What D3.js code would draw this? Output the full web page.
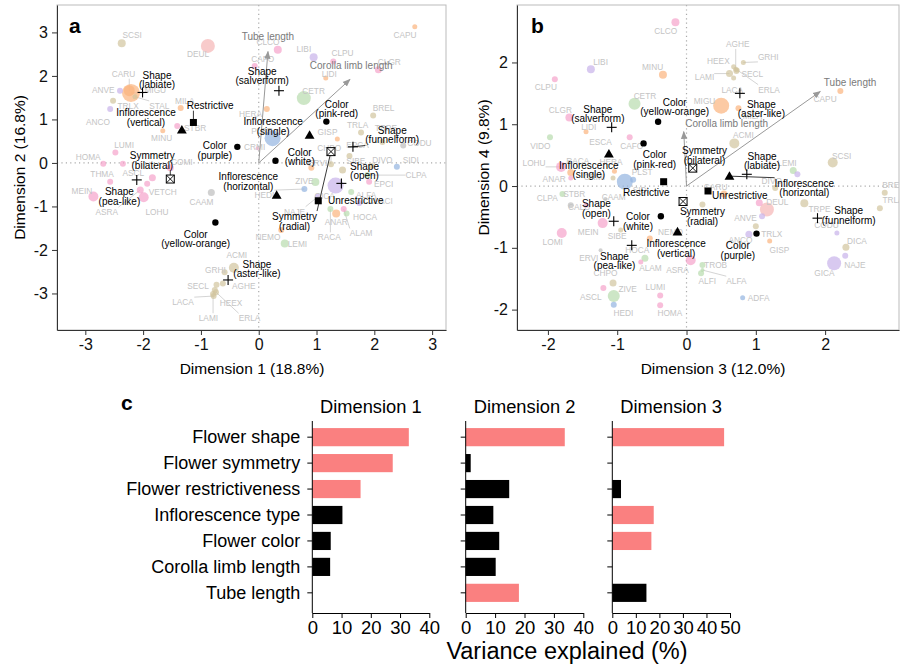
<!DOCTYPE html>
<html><head><meta charset="utf-8">
<script src="https://cdn.jsdelivr.net/npm/d3@7"></script>
<style>body{margin:0;background:#fff}svg{display:block;font-family:"Liberation Sans",Arial,Helvetica,sans-serif}</style>
</head><body><svg id="c" width="901" height="667"></svg>
<script>
// ---------------- DATA ----------------
// species points: [code, x, y, labelX, labelY, colourGroup, size]
const speciesA = [
["SCSI",-2.37,2.75,-2.19,2.93,"t",4],["DEUL",-0.88,2.69,-1.05,2.51,"r",7],["MIGU",-2.21,1.61,-1.79,1.68,"o",9],
["CARU",-2.24,1.66,-2.34,2.05,"o",5.5],["ANVE",-2.40,1.66,-2.69,1.68,"v",3],["TRLX",-2.52,1.43,-2.26,1.31,"t",3],
["STAL",-2.14,1.52,-1.72,1.31,"t",2.5],["ANCO",-2.57,1.24,-2.78,0.94,"v",3],["MILA",-1.35,1.26,-1.28,1.43,"o",3],
["STBR",-1.41,0.85,-1.10,0.80,"p",3],["MINU",-1.66,0.74,-1.68,0.58,"o",2.5],["HERA",0.14,1.24,-0.14,1.13,"o",3],
["LUMI",-2.48,0.24,-2.33,0.41,"p",3],["HOMA",-2.69,-0.02,-2.95,0.14,"p",3],["",-2.35,-0.02,-2.35,-0.02,"p",3],
["THMA",-2.57,-0.43,-2.71,-0.25,"p",3],["ASCL",-1.84,-0.34,-2.17,-0.22,"p",3.5],["COMI",-1.53,-0.11,-1.33,0.02,"p",3.5],
["MEIN",-2.86,-0.77,-3.06,-0.64,"p",5],["VETCH",-1.93,-0.48,-1.66,-0.67,"p",3],["ASRA",-2.05,-0.62,-2.63,-1.13,"p",3.5],
["LOHU",-1.99,-0.79,-1.76,-1.13,"p",5],["CAAM",-0.82,-0.68,-0.99,-0.89,"k",3.5],["PLST",0.24,0.57,0.05,0.74,"b",8],
["CRMI",-0.02,0.34,-0.07,0.37,"p",2],["CAFO",-0.07,2.23,0.07,2.39,"p",3],["CLCO",0.33,2.60,0.16,2.77,"p",4],
["CAPU",2.70,3.13,2.53,2.93,"o",2.5],["LIBI",0.95,2.43,0.78,2.61,"v",4],["CLPU",1.29,2.33,1.45,2.52,"p",3],
["CLGR",2.07,2.14,2.26,2.33,"p",3.5],["LIDI",1.16,1.95,1.22,2.05,"o",2.5],["CETR",0.78,1.49,0.95,1.66,"g",7],
["BREL",1.98,1.09,2.16,1.26,"t",3],["TRLA",1.77,0.70,1.71,0.87,"t",3],["TRPE",2.14,0.48,2.20,0.81,"t",3],
["CODU",2.50,0.40,2.78,0.46,"k",3],["GISP",1.36,0.55,1.19,0.72,"o",2.5],["EPCA",1.57,0.16,1.71,0.41,"t",3],
["CHPO",1.25,-0.03,1.22,0.35,"t",3],["SIBE",1.45,-0.16,1.68,0.05,"t",3.5],["DIVO",1.95,-0.07,2.14,0.07,"t",3],
["SIDI",2.39,-0.09,2.63,0.07,"b",3],["CLPA",1.88,-0.28,2.72,-0.28,"g",3],["EPCI",1.91,-0.43,2.16,-0.49,"p",3],
["ZIVE",0.98,-0.44,0.79,-0.41,"g",4],["ERVI",0.91,-0.11,1.02,0.00,"o",3],["HEDI",0.79,-0.60,0.10,-0.74,"b",3],
["GICA",1.33,-0.52,1.14,-0.76,"v",8],["ALFA",1.60,-0.67,1.86,-0.74,"g",3],["LACI",1.74,-0.92,2.16,-0.87,"v",3],
["NAJE",1.02,-0.78,0.62,-1.12,"v",3],["ANAR",1.34,-1.16,1.34,-1.35,"o",4],["HOCA",1.52,-1.16,1.84,-1.25,"g",3],
["ALAM",1.47,-1.06,1.77,-1.62,"p",3],["RACA",1.24,-1.06,1.22,-1.71,"g",3],["NEMO",0.39,-1.54,0.16,-1.71,"o",3],
["LEMI",0.45,-1.85,0.67,-1.86,"g",4],["ACMI",-0.43,-2.41,-0.38,-2.11,"t",5],["GRHI",-0.59,-2.51,-0.75,-2.46,"t",3],
["AGHE",-0.62,-2.77,-0.26,-2.84,"t",3],["SECL",-0.73,-2.80,-1.05,-2.84,"t",3],["HEEX",-0.76,-2.92,-0.48,-3.21,"t",3],
["LACA",-0.78,-3.06,-1.31,-3.20,"t",3],["LAMI",-0.79,-3.01,-0.87,-3.57,"t",3],["ERLA",-0.74,-2.97,-0.16,-3.57,"t",3]
];
const speciesB = [
["CLCO",-0.16,2.65,-0.30,2.51,"p",4],["LIBI",-1.38,1.89,-1.24,2.01,"v",4],["MINU",-0.34,1.80,-0.49,1.92,"o",4],
["CLPU",-1.90,1.73,-2.03,1.60,"p",3],["CETR",-0.75,1.33,-0.60,1.46,"g",6],["CLGR",-1.69,1.11,-1.82,1.23,"p",4],
["LIDI",-1.45,0.88,-1.41,0.96,"o",2.5],["VIDO",-1.97,0.79,-2.11,0.65,"g",3],["ESCA",-1.30,0.80,-1.24,0.72,"k",0],
["CAFO",-0.82,0.79,-0.79,0.65,"p",3],["LOHU",-1.81,0.31,-2.20,0.38,"p",5],["RACA",-1.67,0.22,-1.57,0.41,"o",3.5],
["HERA",-1.04,0.24,-1.09,0.39,"o",2.5],["ANAR",-1.67,0.13,-1.91,0.12,"p",2.5],["PLST",-0.89,0.07,-0.64,0.22,"b",8],
["SIDI",-0.77,0.10,-0.66,-0.06,"b",3],["CRMI",-1.06,0.13,-1.33,0.15,"t",2.5],["CLPA",-1.79,-0.13,-2.01,-0.20,"g",3],
["STBR",-1.45,-0.31,-1.62,-0.13,"p",2.5],["CALU",-1.67,-0.31,-1.55,-0.34,"k",3],["CAAM",-1.17,-0.21,-1.05,-0.17,"k",2],
["MEIN",-1.21,-0.60,-1.42,-0.74,"p",5],["LOMI",-1.80,-0.76,-1.93,-0.90,"p",5],["SIBE",-0.95,-0.71,-1.00,-0.81,"t",2.5],
["NEMO",-0.53,-0.85,-0.23,-0.74,"o",3],["ERVI",-1.24,-1.04,-1.41,-1.16,"k",2],["HOCA",-0.60,-1.17,-0.71,-1.04,"g",3.5],
["ALAM",-0.66,-1.23,-0.52,-1.32,"p",2.5],["CHPO",-1.06,-1.57,-1.17,-1.41,"t",3.5],["ASRA",0.06,-1.20,-0.13,-1.36,"p",5],
["ASCL",-1.20,-1.65,-1.38,-1.79,"p",3],["ZIVE",-1.05,-1.78,-0.85,-1.66,"g",6],["LUMI",-0.38,-1.77,-0.45,-1.64,"p",3],
["HEDI",-1.05,-1.92,-0.91,-2.06,"b",3],["HOMA",-0.38,-1.93,-0.24,-2.06,"p",3],["CARU",0.54,-0.13,0.42,-0.01,"o",3.5],
["DEUL",1.16,-0.38,1.31,-0.26,"r",7],["",1.05,-0.27,1.05,-0.27,"p",3.5],["",0.23,-0.30,0.23,-0.30,"t",3],
["DIVO",1.28,-0.03,1.23,0.08,"t",3],["TRPE",1.70,-0.28,1.92,-0.37,"t",4],["CODU",2.17,-0.76,2.02,-0.63,"v",2.5],
["ANVE",1.09,-0.49,0.85,-0.51,"v",3],["TRLX",1.00,-0.65,1.23,-0.77,"t",3],["ANCO",0.90,-0.78,0.78,-0.88,"v",3.5],
["GISP",1.20,-0.89,1.34,-1.04,"o",2.5],["TROB",0.23,-1.28,0.42,-1.28,"g",3],["ALFI",0.21,-1.41,0.30,-1.54,"g",3],
["ALFA",0.23,-1.36,0.72,-1.54,"g",2],["ADFA",0.81,-1.81,1.04,-1.81,"b",2.5],["BREL",2.86,-0.11,2.98,0.02,"t",3],
["TRLA",2.79,-0.36,2.98,-0.23,"t",3],["DICA",2.30,-0.99,2.46,-0.89,"t",3.5],["NAJE",2.29,-1.13,2.43,-1.27,"v",3],
["GICA",2.13,-1.25,1.99,-1.41,"v",7],["AGHE",0.71,1.89,0.74,2.30,"t",2.5],["HEEX",0.68,1.93,0.46,2.03,"t",2.5],
["GRHI",0.82,2.00,1.18,2.09,"t",2.5],["LAMI",0.62,1.82,0.26,1.77,"t",3.5],["SECL",0.72,1.86,0.95,1.82,"t",3],
["LACA",0.68,1.75,0.66,1.56,"t",2.5],["ERLA",0.73,1.88,1.19,1.56,"t",2.5],["MIGU",0.50,1.30,0.26,1.38,"o",8],
["CAPU",2.22,1.54,2.00,1.41,"o",3],["MILA",0.75,1.26,0.95,1.13,"o",3],["ACMI",0.69,0.69,0.82,0.82,"t",5],
["SCSI",2.11,0.38,2.24,0.49,"t",5],["LEMI",1.54,0.25,1.45,0.37,"g",3.5],["",1.60,0.19,1.60,0.19,"v",3]
];
// trait-state points: [label, trait, x, y, labelX, labelY]
const catA = [
["Shape\n(labiate)","S",-2.01,1.62,-1.76,1.91],["Restrictive","R",-1.13,0.93,-0.84,1.33],
["Inflorescence\n(vertical)","I",-1.33,0.76,-1.95,1.05],["Color\n(purple)","C",-0.37,0.37,-0.76,0.29],
["Symmetry\n(bilateral)","Y",-1.53,-0.37,-1.84,0.06],["Shape\n(pea-like)","S",-2.11,-0.39,-2.41,-0.77],
["Color\n(yellow-orange)","C",-0.75,-1.37,-1.09,-1.75],["Shape\n(aster-like)","S",-0.53,-2.69,-0.03,-2.44],
["Inflorescence\n(horizontal)","I",0.31,-0.74,-0.18,-0.43],["Color\n(white)","C",0.29,0.05,0.71,0.14],
["Color\n(pink-red)","C",1.17,0.95,1.35,1.24],["Inflorescence\n(single)","I",0.88,0.64,0.25,0.84],
["Shape\n(salverform)","S",0.35,1.66,0.06,2.00],["Symmetry\n(radial)","Y",1.25,0.26,0.62,-1.34],
["Shape\n(funnelform)","S",1.63,0.37,2.31,0.64],["Shape\n(open)","S",1.43,-0.47,1.83,-0.18],
["Unrestrictive","R",1.03,-0.87,1.68,-0.85]
];
const catB = [
["Shape\n(salverform)","S",-1.08,0.95,-1.28,1.17],["Color\n(yellow-orange)","C",-0.41,1.04,-0.17,1.28],
["Color\n(pink-red)","C",-0.62,0.69,-0.46,0.43],["Inflorescence\n(single)","I",-1.12,0.52,-1.41,0.26],
["Restrictive","R",-0.33,0.07,-0.58,-0.11],["Symmetry\n(bilateral)","Y",0.09,0.29,0.26,0.50],
["Symmetry\n(radial)","Y",-0.05,-0.25,0.23,-0.49],["Unrestrictive","R",0.31,-0.08,0.77,-0.15],
["Shape\n(aster-like)","S",0.77,1.50,1.08,1.25],["Inflorescence\n(horizontal)","I",0.62,0.16,1.70,-0.03],
["Shape\n(labiate)","S",0.87,0.19,1.09,0.41],["Shape\n(funnelform)","S",1.89,-0.52,2.34,-0.48],
["Color\n(purple)","C",1.01,-0.77,0.74,-1.04],["Shape\n(open)","S",-1.05,-0.57,-1.30,-0.36],
["Color\n(white)","C",-0.37,-0.49,-0.70,-0.57],["Shape\n(pea-like)","S",-0.79,-0.96,-1.04,-1.21],
["Inflorescence\n(vertical)","I",-0.13,-0.74,-0.15,-1.01]
];
const leadersA = ["Restrictive","Symmetry\n(bilateral)","Symmetry\n(radial)","Shape\n(funnelform)"];
const leadersB = ["Inflorescence\n(horizontal)"];
// continuous trait vectors: [label, endX, endY, labelX, labelY]
const arrowsA = [["Tube length",0.16,2.56,0.16,2.91],["Corolla limb length",1.58,1.92,1.60,2.25]];
const arrowsB = [["Corolla limb length",-0.04,0.88,0.58,1.01],["Tube length",1.93,1.53,2.36,1.67]];
const ticksA = [-3,-2,-1,0,1,2,3];
const ticksB = [-2,-1,0,1,2];

// panel c
const traits = ["Flower shape","Flower symmetry","Flower restrictiveness","Inflorescence type","Flower color","Corolla limb length","Tube length"];
const dim1 = [33,27.5,16.5,10.3,6.3,6.1,0];
const dim2 = [33.7,1.7,14.8,9.4,11.4,10.2,18.1];
const dim3 = [47.5,0,3.7,17.6,16.6,0,14.5];
const dimTitles = ["Dimension 1","Dimension 2","Dimension 3"];
const ticks40 = [0,10,20,30,40], ticks50 = [0,10,20,30,40,50];

// ---------------- DRAWING ----------------
const svg = d3.select("#c");
const FONT = '"Liberation Sans",Arial,Helvetica,sans-serif';
const groupColor = {p:"#f5a3cb",o:"#fbb47e",v:"#c8b2ea",t:"#d2c49e",g:"#b8dcae",b:"#93b4e0",k:"#bdbdbd",r:"#f5b5b5"};

const defs = svg.append("defs");
defs.append("marker").attr("id","arr").attr("viewBox","0 0 10 10").attr("refX",9).attr("refY",5)
  .attr("markerWidth",8).attr("markerHeight",8).attr("orient","auto")
  .append("path").attr("d","M0,1 L10,5 L0,9 z").attr("fill","#999");

function nearest(px,py,bb){
  const nx = Math.max(bb.x, Math.min(px, bb.x+bb.width));
  const ny = Math.max(bb.y, Math.min(py, bb.y+bb.height));
  return [nx,ny,Math.hypot(px-nx,py-ny)];
}

function drawSym(g,type,cx,cy){
  if(type==="S"){
    g.append("line").attr("x1",cx-5).attr("x2",cx+5).attr("y1",cy).attr("y2",cy).attr("stroke","#000").attr("stroke-width",1.1);
    g.append("line").attr("x1",cx).attr("x2",cx).attr("y1",cy-5).attr("y2",cy+5).attr("stroke","#000").attr("stroke-width",1.1);
  } else if(type==="C"){
    g.append("circle").attr("cx",cx).attr("cy",cy).attr("r",3.2).attr("fill","#000");
  } else if(type==="I"){
    g.append("path").attr("d",d3.symbol(d3.symbolTriangle,42)()).attr("transform",`translate(${cx},${cy+0.8})`).attr("fill","#000");
  } else if(type==="R"){
    g.append("rect").attr("x",cx-3.5).attr("y",cy-3.5).attr("width",7).attr("height",7).attr("fill","#000");
  } else if(type==="Y"){
    g.append("rect").attr("x",cx-4).attr("y",cy-4).attr("width",8).attr("height",8).attr("fill","#fff").attr("stroke","#000").attr("stroke-width",1);
    g.append("path").attr("d",`M${cx-4},${cy-4}L${cx+4},${cy+4}M${cx+4},${cy-4}L${cx-4},${cy+4}`).attr("stroke","#000").attr("stroke-width",0.9);
  }
}

function drawScatter(cfg){
  const x = d3.scaleLinear().domain(cfg.xd).range([cfg.L,cfg.R]);
  const y = d3.scaleLinear().domain(cfg.yd).range([cfg.B,cfg.T]);
  defs.append("clipPath").attr("id","clip"+cfg.id).append("rect")
    .attr("x",cfg.L).attr("y",cfg.T).attr("width",cfg.R-cfg.L).attr("height",cfg.B-cfg.T);
  const g = svg.append("g").attr("clip-path",`url(#clip${cfg.id})`);
  g.append("line").attr("x1",x(0)).attr("x2",x(0)).attr("y1",cfg.T).attr("y2",cfg.B)
    .attr("stroke","#aaa").attr("stroke-width",1.2).attr("stroke-dasharray","1.2,3.2");
  g.append("line").attr("x1",cfg.L).attr("x2",cfg.R).attr("y1",y(0)).attr("y2",y(0))
    .attr("stroke","#aaa").attr("stroke-width",1.2).attr("stroke-dasharray","1.2,3.2");
  const gL = g.append("g"), gC = g.append("g"), gT = g.append("g");
  gC.selectAll("circle").data(cfg.species.filter(d=>d[6]>0)).join("circle")
    .attr("cx",d=>x(d[1])).attr("cy",d=>y(d[2])).attr("r",d=>d[6])
    .attr("fill",d=>groupColor[d[5]]).attr("fill-opacity",0.7);
  cfg.species.filter(d=>d[0]).forEach(d=>{
    const t = gT.append("text").attr("x",x(d[3])).attr("y",y(d[4])+3).attr("text-anchor","middle")
      .attr("font-size",8.3).attr("fill","#c4c4c4").text(d[0]);
    const bb = t.node().getBBox();
    const px=x(d[1]), py=y(d[2]);
    const [nx,ny,dist] = nearest(px,py,bb);
    if(dist>11){
      gL.append("line").attr("x1",px).attr("y1",py).attr("x2",nx).attr("y2",ny)
        .attr("stroke","#cfcfcf").attr("stroke-width",0.9);
    }
  });
  const gA = g.append("g");
  cfg.arrows.forEach(a=>{
    gA.append("line").attr("x1",x(0)).attr("y1",y(0)).attr("x2",x(a[1])).attr("y2",y(a[2]))
      .attr("stroke","#999").attr("stroke-width",1).attr("marker-end","url(#arr)");
    gA.append("text").attr("x",x(a[3])).attr("y",y(a[4])+3.6).attr("text-anchor","middle")
      .attr("font-size",10).attr("fill","#7a7a7a").text(a[0]);
  });
  const gK = g.append("g"), gS = g.append("g"), gX = g.append("g");
  cfg.cats.forEach(c=>{
    const px=x(c[2]), py=y(c[3]);
    drawSym(gS,c[1],px,py);
    const lines = c[0].split("\n");
    const t = gX.append("text").attr("text-anchor","middle").attr("font-size",10).attr("fill","#000");
    lines.forEach((ln,i)=>{
      t.append("tspan").attr("x",x(c[4])).attr("y",y(c[5])+(i-(lines.length-1)/2)*9.6+3.6).text(ln);
    });
    if(cfg.leaders.includes(c[0])){
      const bb = t.node().getBBox();
      const [nx,ny] = nearest(px,py,bb);
      gK.append("line").attr("x1",px).attr("y1",py).attr("x2",nx).attr("y2",ny)
        .attr("stroke","#222").attr("stroke-width",0.9);
    }
  });
  svg.append("rect").attr("x",cfg.L).attr("y",cfg.T).attr("width",cfg.R-cfg.L).attr("height",cfg.B-cfg.T)
    .attr("fill","none").attr("stroke","#bbb").attr("stroke-width",1);
  const fmt = d=>String(d);
  const ax = svg.append("g").attr("transform",`translate(0,${cfg.B})`)
    .call(d3.axisBottom(x).tickValues(cfg.xticks).tickFormat(fmt).tickSize(5).tickSizeOuter(0).tickPadding(4));
  const ay = svg.append("g").attr("transform",`translate(${cfg.L},0)`)
    .call(d3.axisLeft(y).tickValues(cfg.yticks).tickFormat(fmt).tickSize(5).tickSizeOuter(0).tickPadding(4));
  [ax,ay].forEach(a=>{
    a.attr("font-family",FONT).attr("font-size",16);
    a.selectAll("path,line").attr("stroke","#333");
    a.selectAll("text").attr("fill","#111");
  });
  svg.append("text").attr("x",cfg.xtx).attr("y",374).attr("text-anchor","middle").attr("font-size",15.5).text(cfg.xtitle);
  svg.append("text").attr("transform",`translate(${cfg.ytx},${(cfg.T+cfg.B)/2}) rotate(-90)`).attr("text-anchor","middle")
    .attr("font-size",15.5).text(cfg.ytitle);
  svg.append("text").attr("x",cfg.lx).attr("y",33).attr("font-size",21).attr("font-weight","bold").text(cfg.letter);
}

drawScatter({id:"a",L:57,R:446,T:5,B:330,xd:[-3.49,3.24],yd:[-3.84,3.63],xticks:ticksA,yticks:ticksA,
  species:speciesA,cats:catA,arrows:arrowsA,leaders:leadersA,xtitle:"Dimension 1 (18.8%)",ytitle:"Dimension 2 (16.8%)",
  xtx:252,ytx:25,letter:"a",lx:69});
drawScatter({id:"b",L:517,R:899,T:5,B:330,xd:[-2.446,3.066],yd:[-2.33,2.93],xticks:ticksB,yticks:ticksB,
  species:speciesB,cats:catB,arrows:arrowsB,leaders:leadersB,xtitle:"Dimension 3 (12.0%)",ytitle:"Dimension 4 (9.8%)",
  xtx:713,ytx:489,letter:"b",lx:531});

// ---------------- PANEL C ----------------
const yb = d3.scaleBand().domain(traits).range([419,611]).paddingInner(0.3).paddingOuter(0.35);
const barPanels = [
  {vals:dim1,x0:312.3,x1:429.3,max:40,ticks:ticks40,labels:true},
  {vals:dim2,x0:465.7,x1:583.3,max:40,ticks:ticks40,labels:false},
  {vals:dim3,x0:612.3,x1:730,max:50,ticks:ticks50,labels:false}
];
barPanels.forEach((p,k)=>{
  const x = d3.scaleLinear().domain([0,p.max]).range([p.x0,p.x1]);
  const g = svg.append("g");
  g.selectAll("rect").data(p.vals).join("rect")
    .attr("x",x(0)).attr("y",(d,i)=>yb(traits[i])).attr("width",d=>x(d)-x(0)).attr("height",yb.bandwidth())
    .attr("fill",d=>d>16?"#fa8080":"#000");
  const ya = g.append("g").attr("transform",`translate(${x(0)},0)`)
    .call(d3.axisLeft(yb).tickSize(5).tickSizeOuter(0).tickPadding(7).tickFormat(p.labels?(d=>d):(()=>"")));
  ya.select(".domain").remove();
  ya.attr("font-family",FONT).attr("font-size",18);
  ya.selectAll("text").attr("fill","#000");
  g.append("line").attr("x1",x(0)).attr("x2",x(0)).attr("y1",421).attr("y2",613).attr("stroke","#000");
  const xa = g.append("g").attr("transform","translate(0,613)")
    .call(d3.axisBottom(x).tickValues(p.ticks).tickSize(5).tickSizeOuter(0).tickPadding(3));
  xa.attr("font-family",FONT).attr("font-size",18.5);
  xa.selectAll("text").attr("fill","#000");
  g.append("text").attr("x",(p.x0+p.x1)/2).attr("y",413).attr("text-anchor","middle").attr("font-size",18.3).text(dimTitles[k]);
});
svg.append("text").attr("x",567).attr("y",659).attr("text-anchor","middle").attr("font-size",23.5).text("Variance explained (%)");
svg.append("text").attr("x",121).attr("y",410).attr("font-size",21).attr("font-weight","bold").text("c");
</script></body></html>
